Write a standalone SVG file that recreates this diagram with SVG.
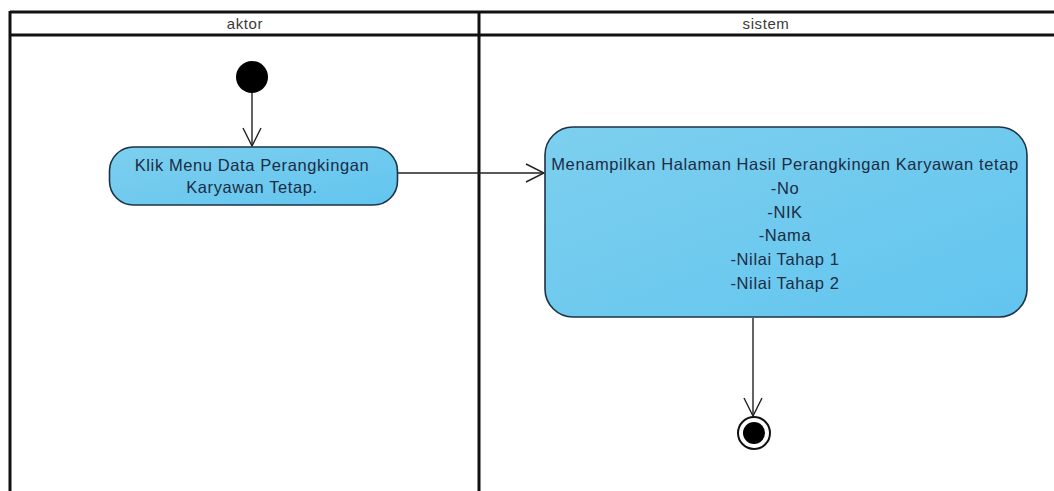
<svg xmlns="http://www.w3.org/2000/svg" width="1054" height="491" viewBox="0 0 1054 491">
<style>
.lane{stroke:#111;stroke-width:3;fill:none}
.hdr{font-family:"Liberation Sans",Arial,sans-serif;font-size:15px;letter-spacing:0.6px;fill:#3a3a3a;text-anchor:middle}
.act{fill:url(#blue);stroke:#1e3246;stroke-width:1.6}
.txt{font-family:"Liberation Sans",Arial,sans-serif;font-size:16.5px;letter-spacing:0.6px;fill:#1c2c44;text-anchor:middle}
.edge{stroke:#222;stroke-width:1.4;fill:none}
</style>
<defs>
<linearGradient id="blue" x1="0" y1="0" x2="1" y2="1">
<stop offset="0" stop-color="#7dcfee"/>
<stop offset="1" stop-color="#62c5ef"/>
</linearGradient>
<marker id="open" viewBox="0 0 20 20" refX="19" refY="10" markerWidth="20" markerHeight="20" markerUnits="userSpaceOnUse" orient="auto">
<path d="M1,1 L19,10 L1,19" fill="none" stroke="#222" stroke-width="1.4"/>
</marker>
</defs>
<rect width="1054" height="491" fill="#fff"/>
<g id="swimlanes">
<line class="lane" x1="10" y1="12" x2="1054" y2="12" stroke-width="2.5"/>
<line class="lane" x1="10" y1="35" x2="1054" y2="35"/>
<line class="lane" x1="10" y1="11" x2="10" y2="491"/>
<line class="lane" x1="479" y1="11" x2="479" y2="491"/>
<text class="hdr" x="245" y="29">aktor</text>
<text class="hdr" x="766" y="29">sistem</text>
</g>
<g id="connectors">
<line class="edge" x1="252" y1="92" x2="252" y2="146" marker-end="url(#open)"/>
<line class="edge" x1="397" y1="173" x2="544" y2="173" marker-end="url(#open)"/>
<line class="edge" x1="753" y1="318" x2="753" y2="416" marker-end="url(#open)"/>
</g>
<g id="start">
<circle cx="252" cy="77" r="16" fill="#000"/>
</g>
<g id="klik-menu">
<rect class="act" x="109.5" y="147" width="288" height="58" rx="24"/>
<text class="txt" x="252" y="171">Klik Menu Data Perangkingan</text>
<text class="txt" x="252" y="193">Karyawan Tetap.</text>
</g>
<g id="menampilkan">
<rect class="act" x="545" y="127" width="482" height="190" rx="28"/>
<text class="txt" x="785" y="169.5">Menampilkan Halaman Hasil Perangkingan Karyawan tetap</text>
<text class="txt" x="785" y="193.5">-No</text>
<text class="txt" x="785" y="217.5">-NIK</text>
<text class="txt" x="785" y="241">-Nama</text>
<text class="txt" x="785" y="265">-Nilai Tahap 1</text>
<text class="txt" x="785" y="288.5">-Nilai Tahap 2</text>
</g>
<g id="end">
<circle cx="754" cy="433" r="16" fill="#fff" stroke="#111" stroke-width="2"/>
<circle cx="754" cy="433" r="11" fill="#000"/>
</g>
</svg>
